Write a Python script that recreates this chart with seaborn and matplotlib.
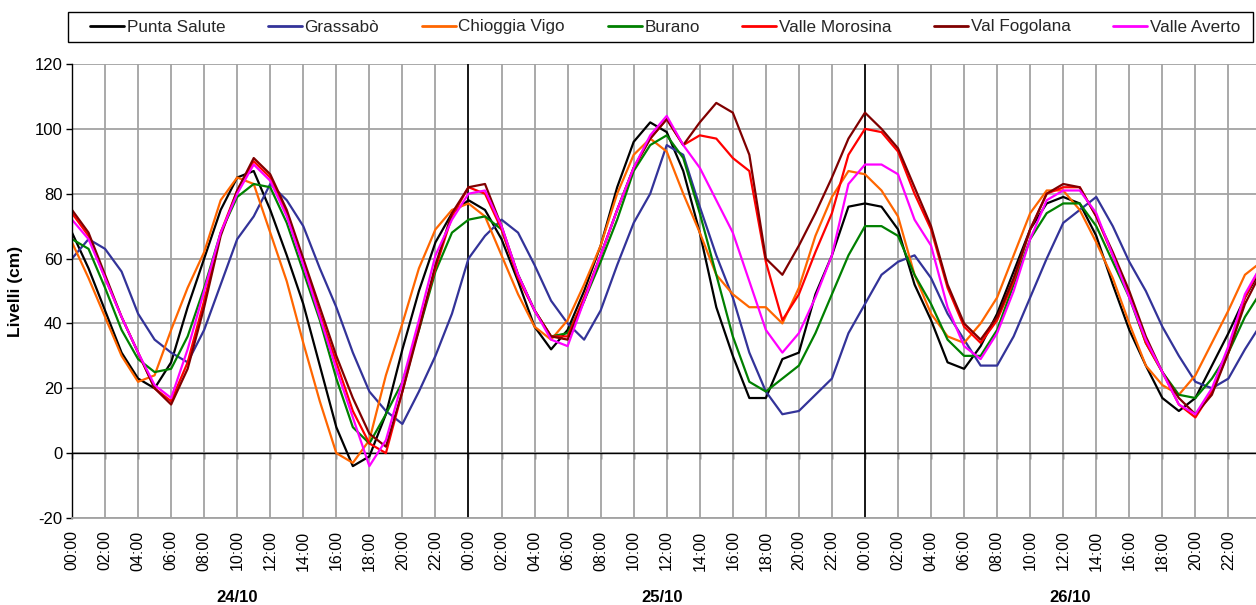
import matplotlib
matplotlib.use("Agg")
import matplotlib.pyplot as plt
import matplotlib.transforms as mtransforms
from matplotlib.patches import Rectangle
import numpy as np
import pandas as pd
import seaborn as sns

# ---- data (hourly readings, 24/10 00:00 -> 27/10 00:00) ----
ore = list(range(73))

punta_salute = [68, 57, 44, 31, 23, 20, 28, 45, 60, 75, 85, 87, 75,
                61, 46, 27, 8, -4, -1, 12, 32, 50, 65, 74, 78,
                75, 66, 53, 39, 32, 38, 50, 64, 82, 96, 102, 99,
                87, 68, 45, 30, 17, 17, 29, 31, 49, 61, 76, 77,
                76, 69, 52, 41, 28, 26, 33, 43, 56, 69, 77, 79,
                77, 67, 52, 38, 27, 17, 13, 17, 27, 37, 48, 57]
grassabo = [60, 66, 63, 56, 43, 35, 31, 28, 38, 52, 66, 73, 83,
            78, 70, 57, 45, 31, 19, 13, 9, 19, 30, 43, 60,
            67, 72, 68, 58, 47, 40, 35, 44, 58, 71, 80, 95,
            92, 76, 61, 48, 31, 19, 12, 13, 18, 23, 37, 46,
            55, 59, 61, 54, 43, 35, 27, 27, 36, 48, 60, 71,
            75, 79, 70, 59, 50, 39, 30, 22, 20, 23, 32, 40]
chioggia_vigo = [65, 54, 42, 30, 22, 24, 38, 51, 62, 78, 85, 83, 68,
                 53, 34, 16, 0, -3, 4, 24, 40, 57, 69, 75, 77,
                 73, 61, 49, 39, 35, 41, 52, 64, 80, 92, 97, 93,
                 80, 68, 55, 49, 45, 45, 40, 51, 67, 79, 87, 86,
                 81, 73, 55, 43, 36, 34, 40, 48, 61, 74, 81, 81,
                 75, 65, 54, 40, 27, 21, 18, 24, 34, 44, 55, 59]
burano = [66, 63, 51, 38, 29, 25, 26, 36, 51, 68, 79, 83, 82,
          71, 56, 41, 23, 8, 3, 12, 22, 38, 56, 68, 72,
          73, 69, 55, 44, 36, 37, 47, 59, 72, 87, 95, 98,
          91, 74, 55, 36, 22, 19, 23, 27, 37, 49, 61, 70,
          70, 67, 55, 46, 35, 30, 30, 38, 52, 66, 74, 77,
          77, 70, 59, 48, 34, 25, 18, 17, 23, 31, 42, 50]
valle_morosina = [74, 67, 54, 42, 31, 20, 16, 28, 47, 68, 81, 90, 85,
                  74, 59, 43, 28, 13, 3, 0, 19, 39, 57, 73, 82,
                  80, 69, 54, 44, 36, 36, 48, 61, 75, 88, 97, 103,
                  95, 98, 97, 91, 87, 59, 41, 49, 62, 74, 92, 100,
                  99, 93, 80, 69, 51, 39, 34, 41, 53, 69, 80, 82,
                  82, 73, 61, 49, 34, 25, 15, 11, 19, 31, 48, 58]
val_fogolana = [75, 68, 55, 42, 31, 20, 15, 26, 45, 67, 81, 91, 86,
                75, 60, 45, 30, 17, 6, 2, 19, 38, 58, 74, 82,
                83, 70, 55, 44, 36, 35, 47, 61, 75, 88, 97, 103,
                95, 102, 108, 105, 92, 60, 55, 64, 74, 85, 97, 105,
                100, 94, 82, 70, 52, 40, 35, 42, 54, 69, 80, 83,
                82, 73, 62, 50, 36, 25, 17, 12, 18, 31, 46, 56]
valle_averto = [72, 66, 54, 42, 31, 21, 17, 32, 50, 68, 80, 89, 84,
                73, 58, 42, 26, 11, -4, 4, 22, 41, 61, 72, 80,
                81, 70, 55, 44, 35, 33, 47, 61, 75, 88, 98, 104,
                95, 88, 78, 68, 53, 38, 31, 37, 48, 61, 83, 89,
                89, 86, 72, 64, 45, 33, 29, 37, 50, 66, 78, 81,
                81, 74, 61, 48, 35, 25, 15, 12, 20, 33, 49, 58]

stazioni = ["Punta Salute", "Grassabò", "Chioggia Vigo", "Burano",
            "Valle Morosina", "Val Fogolana", "Valle Averto"]
serie = [punta_salute, grassabo, chioggia_vigo, burano,
         valle_morosina, val_fogolana, valle_averto]
colori = ["#000000", "#333399", "#FF6600", "#008000",
          "#FF0000", "#800000", "#FF00FF"]
giorni = ["24/10", "25/10", "26/10"]
orari = ["00:00", "02:00", "04:00", "06:00", "08:00", "10:00",
         "12:00", "14:00", "16:00", "18:00", "20:00", "22:00"]
ore_tick = [0, 2, 4, 6, 8, 10, 12, 14, 16, 18, 20, 22]
ore_giorno = 24

df = pd.concat([pd.DataFrame({"ora": ore, "livello": v, "stazione": s})
                for s, v in zip(stazioni, serie)], ignore_index=True)

# ---- style ----
sns.set_theme(style="white")
plt.rcParams["font.family"] = ["Liberation Sans", "DejaVu Sans"]
plt.rcParams["axes.unicode_minus"] = False
GRID = "#a3a3a3"

W, H = 1256, 605
fig = plt.figure(figsize=(W / 100, H / 100), dpi=100)
ax = fig.add_axes([72 / W, 87 / H, 1185 / W, 454 / H])

sns.lineplot(data=df, x="ora", y="livello", hue="stazione",
             hue_order=stazioni, palette=dict(zip(stazioni, colori)),
             estimator=None, linewidth=1.6, ax=ax, legend="auto")

ax.set_xlim(0, 71.73)
ax.set_ylim(-20, 120)

# x ticks (every two hours, repeated for each day)
pos_tick = [g * ore_giorno + h for g in range(len(giorni)) for h in ore_tick]
lab_tick = orari * len(giorni)
ax.set_xticks(pos_tick)
ax.set_xticklabels(lab_tick, rotation=90)
ax.tick_params(axis="x", length=0, pad=9, labelsize=11.5, colors="black")
ax.set_yticks(range(-20, 121, 20))
ax.tick_params(axis="y", left=True, length=4, width=1, direction="out",
               pad=3, labelsize=12, colors="black")

ax.grid(True, color=GRID, linewidth=1.3)
ax.set_axisbelow(True)
for d in range(1, len(giorni)):
    ax.axvline(d * ore_giorno, color="black", linewidth=1.2, zorder=1.5)
ax.axhline(0, color="black", linewidth=1.0, zorder=1.5)

ax.spines["left"].set_color("black")
ax.spines["left"].set_linewidth(1.0)
ax.spines["bottom"].set_color(GRID)
ax.spines["bottom"].set_linewidth(1.3)
ax.spines["top"].set_visible(False)
ax.spines["right"].set_visible(False)

# small category-axis tick marks at the zero crossing
sec = ax.secondary_xaxis(20 / 140)
sec.set_xticks(pos_tick)
sec.set_xticklabels([])
sec.tick_params(axis="x", direction="out", length=4, width=1, color="black")
sec.spines["bottom"].set_visible(False)

ax.set_xlabel("")
ax.set_ylabel("Livelli (cm)", fontsize=12.5, fontweight="bold", color="black")
ax.yaxis.set_label_coords(-0.041, 0.5)

# day labels
trans = mtransforms.blended_transform_factory(ax.transData, ax.transAxes)
giorni_x = [10.0, 35.7, 60.4]
for gx, g in zip(giorni_x, giorni):
    ax.text(gx, -0.176, g, transform=trans, ha="center", va="center",
            fontsize=12, fontweight="bold", color="black")

# legend (entries spread evenly inside a plain rectangular box)
handles, labels = ax.get_legend_handles_labels()
ax.get_legend().remove()
for h in handles:
    h.set_linewidth(2.0)
fig.patches.append(Rectangle((68 / W, 1 - 42 / H), (1253 - 68) / W, 30 / H,
                             transform=fig.transFigure, fill=True,
                             facecolor="white", edgecolor="black",
                             linewidth=1.0))
leg = fig.legend(handles, labels, loc="center left",
                 bbox_to_anchor=(90 / W, 1 - 27 / H, (1240 - 90) / W, 0),
                 mode="expand", ncol=7, fontsize=12.3, frameon=False,
                 borderaxespad=0, handlelength=2.0, handletextpad=0.15,
                 borderpad=0)

# put every legend entry on a common baseline
fig.canvas.draw()
renderer = fig.canvas.get_renderer()
texts = leg.get_texts()
baselines = []
for t in texts:
    fp = t.get_fontproperties()
    d_txt = renderer.get_text_width_height_descent(t.get_text(), fp, ismath=False)[2]
    d_lp = renderer.get_text_width_height_descent("lp", fp, ismath=False)[2]
    bb = t.get_window_extent(renderer)
    baselines.append(bb.y0 + max(d_txt, d_lp))
ref = min(baselines)
for t, hnd, b in zip(texts, leg.legend_handles, baselines):
    delta = b - ref
    if delta > 0.5:
        t.set_y(t.get_position()[1] - delta)
        hnd.set_ydata(np.asarray(hnd.get_ydata(), dtype=float) - delta * 72 / fig.dpi)

fig.savefig("out.png", dpi=100)
